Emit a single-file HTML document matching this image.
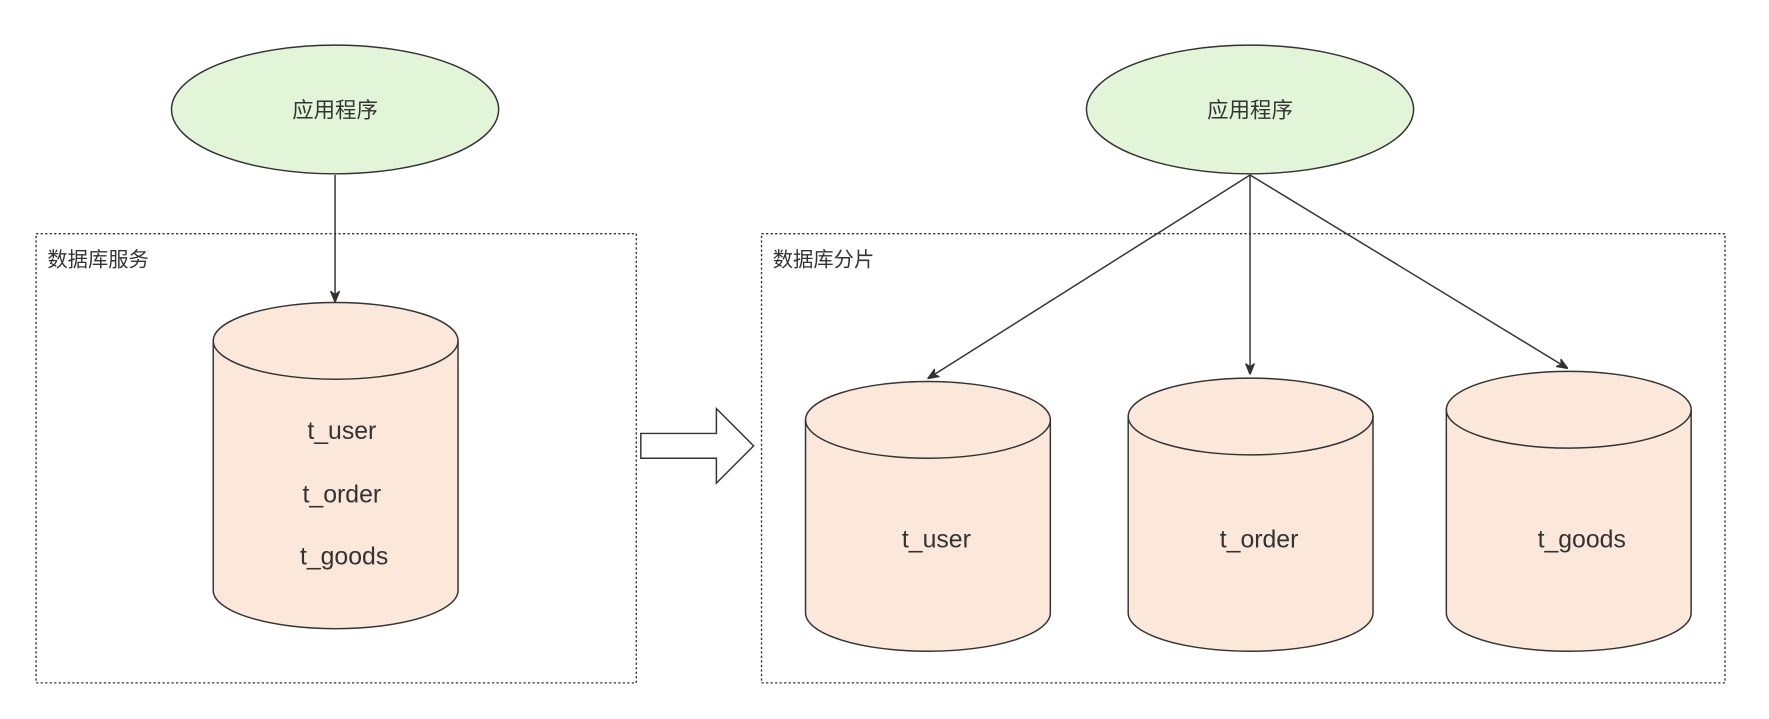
<!DOCTYPE html>
<html><head><meta charset="utf-8"><style>
html,body{margin:0;padding:0;background:#fff;}
svg{display:block;}
text{font-family:"Liberation Sans","Noto Sans CJK SC",sans-serif;fill:#333;}
</style></head><body>
<svg width="1769" height="719" viewBox="0 0 1568 637" preserveAspectRatio="none" xmlns="http://www.w3.org/2000/svg">
<defs>
<marker id="ah" markerWidth="10" markerHeight="10" refX="9" refY="5" orient="auto" markerUnits="userSpaceOnUse">
<path d="M0,1 L10,5 L0,9 L3,5 Z" fill="#333" stroke="#333" stroke-width="1"/>
</marker>
</defs>
<g stroke="#333" stroke-width="1.2" stroke-dasharray="2,2" fill="none">
<rect x="32" y="207" width="532" height="398"/>
<rect x="675" y="207" width="854" height="398"/>
</g>
<text x="42" y="236" font-size="18">数据库服务</text>
<text x="685" y="236" font-size="18">数据库分片</text>

<ellipse cx="297" cy="97" rx="145" ry="57" fill="#e3f5d9" stroke="#333" stroke-width="1.3"/>
<text x="297" y="104" font-size="19" text-anchor="middle">应用程序</text>
<ellipse cx="1108" cy="97" rx="145" ry="57" fill="#e3f5d9" stroke="#333" stroke-width="1.3"/>
<text x="1108" y="104" font-size="19" text-anchor="middle">应用程序</text>

<g stroke="#333" stroke-width="1.3" fill="none" marker-end="url(#ah)">
<line x1="297" y1="155" x2="297" y2="267"/>
<line x1="1108" y1="155" x2="823" y2="335"/>
<line x1="1108" y1="155" x2="1108" y2="331"/>
<line x1="1108" y1="155" x2="1389" y2="326"/>
</g>

<!-- left cylinder -->
<g stroke="#333" stroke-width="1.3" fill="#fbe8da">
<path d="M189,302 L189,523 A108.5,34 0 0 0 406,523 L406,302 A108.5,34 0 0 0 189,302 Z"/>
<path d="M189,302 A108.5,34 0 0 0 406,302" fill="none"/>
<path d="M714,372 L714,543 A108.5,34 0 0 0 931,543 L931,372 A108.5,34 0 0 0 714,372 Z"/>
<path d="M714,372 A108.5,34 0 0 0 931,372" fill="none"/>
<path d="M1000,369 L1000,543 A108.5,34 0 0 0 1217,543 L1217,369 A108.5,34 0 0 0 1000,369 Z"/>
<path d="M1000,369 A108.5,34 0 0 0 1217,369" fill="none"/>
<path d="M1282,363 L1282,543 A108.5,34 0 0 0 1499,543 L1499,363 A108.5,34 0 0 0 1282,363 Z"/>
<path d="M1282,363 A108.5,34 0 0 0 1499,363" fill="none"/>
</g>
<text x="303" y="389" font-size="22" text-anchor="middle">t_user</text>
<text x="303" y="445" font-size="22" text-anchor="middle">t_order</text>
<text x="305" y="500" font-size="22" text-anchor="middle">t_goods</text>
<text x="830" y="485" font-size="22" text-anchor="middle">t_user</text>
<text x="1116" y="485" font-size="22" text-anchor="middle">t_order</text>
<text x="1402" y="485" font-size="22" text-anchor="middle">t_goods</text>

<path d="M568,384 L635,384 L635,362 L668,395 L635,428 L635,406 L568,406 Z" fill="#fff" stroke="#333" stroke-width="1.3"/>
</svg>
</body></html>
